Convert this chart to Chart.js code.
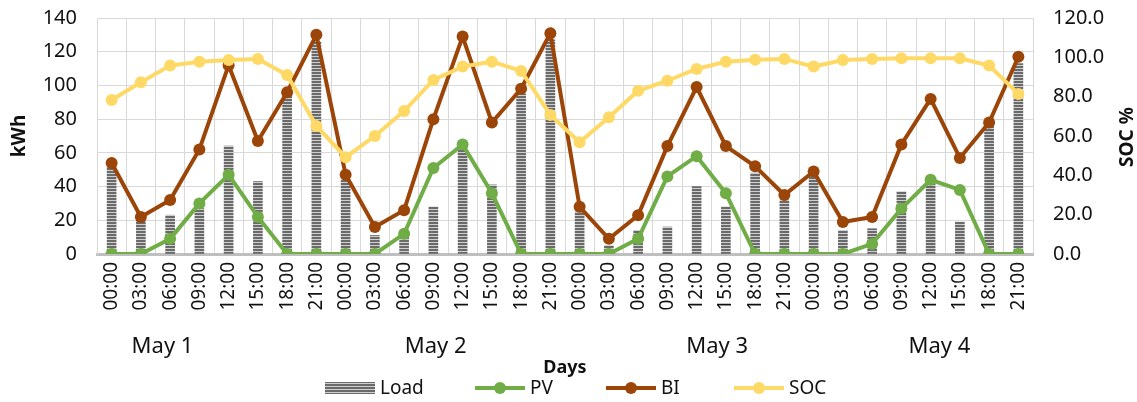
<!DOCTYPE html>
<html>
<head>
<meta charset="utf-8">
<script src="https://cdn.jsdelivr.net/npm/chart.js@4/dist/chart.umd.min.js"></script>
<style>
  html, body { margin: 0; padding: 0; background: #fff; }
  #wrap { width: 1137px; height: 402px; }
</style>
</head>
<body>
<div id="wrap"><canvas id="c" width="1137" height="402"></canvas></div>
<script>
// Hours of each day and the days shown
const times = ['00:00', '03:00', '06:00', '09:00', '12:00', '15:00', '18:00', '21:00'];
const days = ['May 1', 'May 2', 'May 3', 'May 4'];

// Series, one value per 3-hour slot (kWh, SOC in %)
const loadKwh = [52, 20, 23, 27, 64, 43, 94, 126, 44, 11, 10, 28, 62, 41, 95, 127,
                 25, 5, 14, 16, 40, 28, 48, 32, 46, 14, 15, 37, 42, 19, 76, 113];
const pvKwh   = [0, 0, 9, 30, 47, 22, 0, 0, 0, 0, 12, 51, 65, 36, 0, 0,
                 0, 0, 9, 46, 58, 36, 0, 0, 0, 0, 6, 27, 44, 38, 0, 0];
const biKwh   = [54, 22, 32, 62, 112, 67, 96, 130, 47, 16, 26, 80, 129, 78, 98, 131,
                 28, 9, 23, 64, 99, 64, 52, 35, 49, 19, 22, 65, 92, 57, 78, 117];
const socPct  = [78.3, 87.3, 95.8, 97.8, 98.6, 99.2, 91.0, 65.1, 49.2, 60.0, 72.7, 88.5, 95.3, 97.8, 93.1, 70.7,
                 56.8, 69.5, 83.0, 88.1, 94.1, 97.8, 98.8, 99.2, 95.3, 98.6, 99.2, 99.5, 99.5, 99.5, 95.8, 81.4];

// Axis tick values
const kwhTicks = [0, 20, 40, 60, 80, 100, 120, 140];
const socTicks = [0, 20, 40, 60, 80, 100, 120];

const labels = days.flatMap(() => times);

const FONT = '"Noto Sans", "Open Sans", sans-serif';
const TEXT = '#111111';

// Horizontal-striped fill for the load bars
function stripePattern(ctx) {
  const c = document.createElement('canvas');
  c.width = 4; c.height = 3;
  const g = c.getContext('2d');
  g.fillStyle = '#6a6a6a'; g.fillRect(0, 0, 4, 2);
  g.fillStyle = '#cfcfcf'; g.fillRect(0, 2, 4, 1);
  return ctx.createPattern(c, 'repeat');
}

const canvas = document.getElementById('c');
const ctx = canvas.getContext('2d');
const stripes = stripePattern(ctx);

// Day captions, right axis title and legend drawn under / beside the plot
const extras = {
  id: 'extras',
  afterDraw(chart, args, opts) {
    const c = chart.ctx;
    const xs = chart.scales.x;
    c.save();
    c.fillStyle = TEXT;

    // day captions
    c.font = '22px ' + FONT;
    c.textAlign = 'center';
    c.textBaseline = 'middle';
    days.forEach((d, i) => {
      c.fillText(d, xs.getPixelForValue(opts.dayAt[i]), opts.dayY);
    });

    // right axis title, reading upwards
    c.save();
    c.translate(opts.rightTitle.x, opts.rightTitle.y);
    c.rotate(-Math.PI / 2);
    c.font = 'bold 19px ' + FONT;
    c.fillText('SOC %', 0, 0);
    c.restore();

    // legend
    c.font = '19px ' + FONT;
    c.textAlign = 'left';
    c.textBaseline = 'middle';
    const y = opts.legendY;
    chart.data.datasets.forEach((ds, i) => {
      const x = opts.legendX[i];
      const w = opts.swatch;
      if (ds.type === 'bar') {
        c.fillStyle = ds.backgroundColor;
        c.fillRect(x, y - 6, w, 12);
      } else {
        c.strokeStyle = ds.borderColor;
        c.lineWidth = 4;
        c.beginPath(); c.moveTo(x, y); c.lineTo(x + w, y); c.stroke();
        c.fillStyle = ds.pointBackgroundColor;
        c.beginPath(); c.arc(x + w / 2, y, 6, 0, Math.PI * 2); c.fill();
      }
      c.fillStyle = TEXT;
      c.fillText(ds.label, x + w + 5, y + 1);
    });
    c.restore();
  }
};

// Vertical axes: fixed width, no extra room reserved above / below the plot
function fixVertical(width) {
  return s => { s.width = width; s.paddingTop = 0; s.paddingBottom = 0; };
}

new Chart(ctx, {
  data: {
    labels: labels,
    datasets: [
      { type: 'bar', label: 'Load', data: loadKwh, backgroundColor: stripes,
        barThickness: 9, yAxisID: 'y', order: 4 },
      { type: 'line', label: 'PV', data: pvKwh, borderColor: '#70AD47', backgroundColor: '#70AD47',
        pointBackgroundColor: '#70AD47', borderWidth: 4, pointRadius: 6, pointBorderWidth: 0,
        tension: 0, yAxisID: 'y', order: 3 },
      { type: 'line', label: 'BI', data: biKwh, borderColor: '#9C4509', backgroundColor: '#9C4509',
        pointBackgroundColor: '#9C4509', borderWidth: 4, pointRadius: 6, pointBorderWidth: 0,
        tension: 0, yAxisID: 'y', order: 2 },
      { type: 'line', label: 'SOC', data: socPct, borderColor: '#FFD966', backgroundColor: '#FFD966',
        pointBackgroundColor: '#FFD966', borderWidth: 4, pointRadius: 6, pointBorderWidth: 0,
        tension: 0, yAxisID: 'y1', order: 1 }
    ]
  },
  options: {
    responsive: false,
    animation: false,
    devicePixelRatio: 1,
    layout: { padding: { top: 18, left: 0, right: 0, bottom: 0 } },
    plugins: {
      legend: { display: false },
      tooltip: { enabled: false },
      extras: {
        dayAt: [1.74, 11.08, 20.7, 28.3],
        dayY: 347,
        rightTitle: { x: 1128, y: 137 },
        legendY: 388,
        legendX: [325, 475, 606, 734],
        swatch: 50
      }
    },
    scales: {
      x: {
        type: 'category',
        offset: true,
        grid: { color: '#d9d9d9', lineWidth: 1, offset: true, drawTicks: false },
        border: { color: '#bfbfbf', width: 3 },
        ticks: { autoSkip: false, minRotation: 90, maxRotation: 90, padding: 8,
                 color: TEXT, font: { family: FONT, size: 19 } },
        title: { display: true, text: 'Days', color: TEXT,
                 font: { family: FONT, size: 18, weight: 'bold' }, padding: { top: 0, bottom: 23 } },
        afterFit(s) { s.height = 148; }
      },
      y: {
        position: 'left',
        min: 0, max: 140,
        afterBuildTicks(s) { s.ticks = kwhTicks.map(v => ({ value: v })); },
        grid: { color: '#d9d9d9', lineWidth: 1, drawTicks: false },
        border: { color: '#d9d9d9', width: 1 },
        ticks: { padding: 20, color: TEXT, font: { family: FONT, size: 20 } },
        title: { display: true, text: 'kWh', color: TEXT,
                 font: { family: FONT, size: 19, weight: 'bold' }, padding: { top: 8, bottom: 0 } },
        afterFit: fixVertical(97)
      },
      y1: {
        position: 'right',
        min: 0, max: 120,
        afterBuildTicks(s) { s.ticks = socTicks.map(v => ({ value: v })); },
        grid: { display: false, drawTicks: false },
        border: { display: false },
        ticks: { padding: 20, color: TEXT, font: { family: FONT, size: 20 },
                 callback: v => Number(v).toFixed(1) },
        afterFit: fixVertical(104)
      }
    }
  },
  plugins: [extras]
});
</script>
</body>
</html>
